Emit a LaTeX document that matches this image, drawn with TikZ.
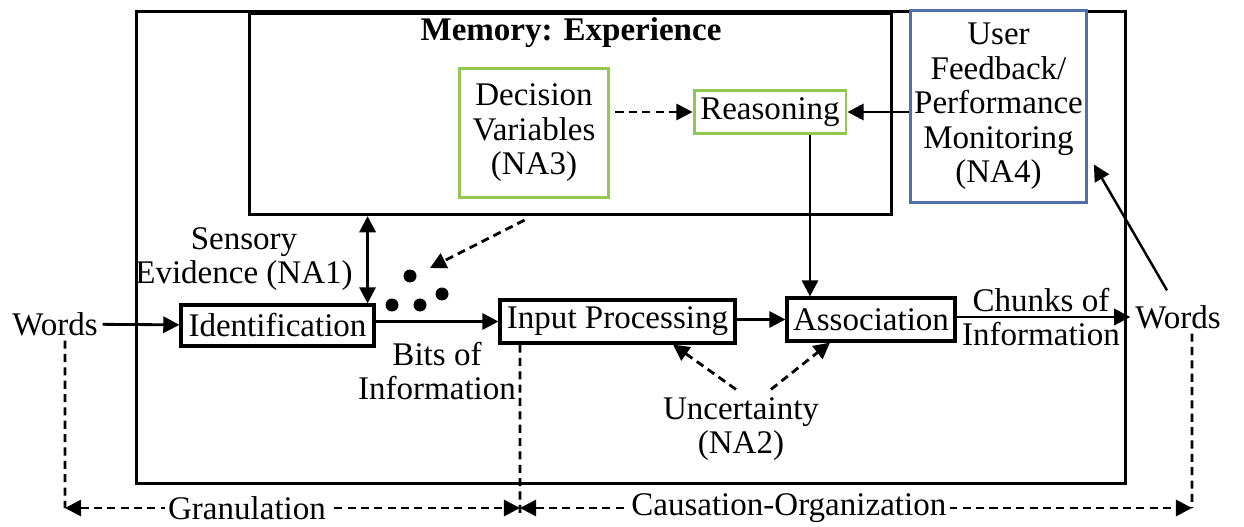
\documentclass[tikz,border=0pt]{standalone}
\usepackage{fontspec}
\setmainfont{Liberation Serif}
\usepackage{tikz}
\usetikzlibrary{positioning}
\usetikzlibrary{arrows.meta}
\usetikzlibrary{calc}
\definecolor{boxgreen}{RGB}{146,200,80}
\definecolor{boxblue}{RGB}{79,113,170}
\tikzset{
	frame/.style={draw,line width=1.8pt,inner sep=0},
	procbox/.style={draw,line width=1.8pt,inner sep=2pt},
	greenbox/.style={draw=boxgreen,line width=1.7pt,inner sep=2pt},
	bluebox/.style={draw=boxblue,line width=1.7pt,fill=white,inner sep=2pt},
	dashline/.style={dash pattern=on 4.6pt off 3pt}
}
\begin{document}
\begin{tikzpicture}[x=0.02cm,y=-0.02cm,>={Triangle[length=9.2pt,width=9.2pt]},line width=1.6pt,
	every node/.style={font=\fontsize{18.8}{19.6}\selectfont,align=center,inner sep=2pt}]
	\useasboundingbox (0,0) rectangle (1244,527);
	% frames
	\node (outer) [frame,minimum width=19.78cm,minimum height=9.44cm,anchor=north west] at (135,10) {};
	\node (mem) [frame,minimum width=12.84cm,minimum height=4.02cm,anchor=north west] at (248,12) {};
	\node (mt) at (571,33) {\bfseries Memory: Experience};
	% boxes
	\node (dv) [greenbox,minimum width=3cm,minimum height=2.6cm] at (534,133) {Decision\\Variables\\(NA3)};
	\node (rs) [greenbox,minimum width=3.04cm,minimum height=0.86cm] at (770,112) {Reasoning};
	\node (uf) [bluebox,minimum width=3.42cm,minimum height=3.86cm] at (998.5,106.5) {User\\Feedback/\\Performance\\Monitoring\\(NA4)};
	\node (id) [procbox,minimum width=3.86cm,minimum height=0.82cm] at (277.5,325.5) {Identification};
	\node (ip) [procbox,minimum width=4.7cm,minimum height=0.86cm] at (617.5,321.5) {Input Processing};
	\node (as) [procbox,minimum width=3.36cm,minimum height=0.86cm] at (871,319.5) {Association};
	% labels
	\node (wl) at (55,324) {Words};
	\node (wr) at (1178,317) {Words};
	\node (se) at (244,259) {Sensory\\Evidence (NA1)};
	\node (bi) at (437,371) {Bits of\\Information};
	\node (ch) at (1041,317) {Chunks of\\Information};
	\node (un) at (741,429) {Uncertainty\\(NA2)};
	% bits
	\coordinate (dots) at (430,268);
	\foreach \p in {(410,276),(392,305),(420,305),(442,294)}
		\fill \p circle (0.13cm);
	% flow
	\draw[->] (wl) -- (id);
	\draw[->] (id.east |- ip) -- (ip);
	\draw[->] (ip.east |- as) -- (as);
	\draw[->] (as.east |- wr) -- (wr);
	\draw[->] (uf.west |- rs) -- (rs);
	\draw[->,dashline,shorten <=0.1cm] (dv.east |- rs) -- (rs);
	\draw[->] ([xshift=0.8cm]rs.south) -- ([xshift=0.8cm]rs.south |- as.north);
	\draw[<->] ([xshift=-0.16cm]id.north east) -- ([xshift=-0.16cm]id.north east |- mem.south);
	\draw[->,dashline] ([xshift=-0.92cm,yshift=-0.08cm]mem.south) -- (dots);
	\draw[->,dashline] ([xshift=-0.1cm,yshift=0.06cm]un.north) -- ([xshift=1.11cm]ip.south);
	\draw[->,dashline] ([xshift=0.6cm,yshift=0.06cm]un.north) -- ([xshift=-0.82cm]as.south);
	\draw[->,line width=1.4pt] ([xshift=-0.22cm,yshift=0.2cm]wr.north) -- ([xshift=0.12cm,yshift=-1.16cm]uf.east);
	% scales
	\coordinate (bl) at (65,508);
	\coordinate (bm) at (520,508);
	\coordinate (br) at (1192,508);
	\draw[dashline] ([xshift=0.2cm]wl.south) -- (bl);
	\draw[dashline] ([xshift=-1.95cm]ip.south) -- ([yshift=-0.14cm]bm);
	\draw[dashline] ([xshift=0.28cm]wr.south) -- (br);
	\draw[<->,dashline] (bl) -- node[pos=0.4,fill=white] (gr) {Granulation} (bm);
	\draw[<->,dashline] (bm) -- node[pos=0.4,fill=white] (co) {Causation-Organization} (br);
\end{tikzpicture}
\end{document}
